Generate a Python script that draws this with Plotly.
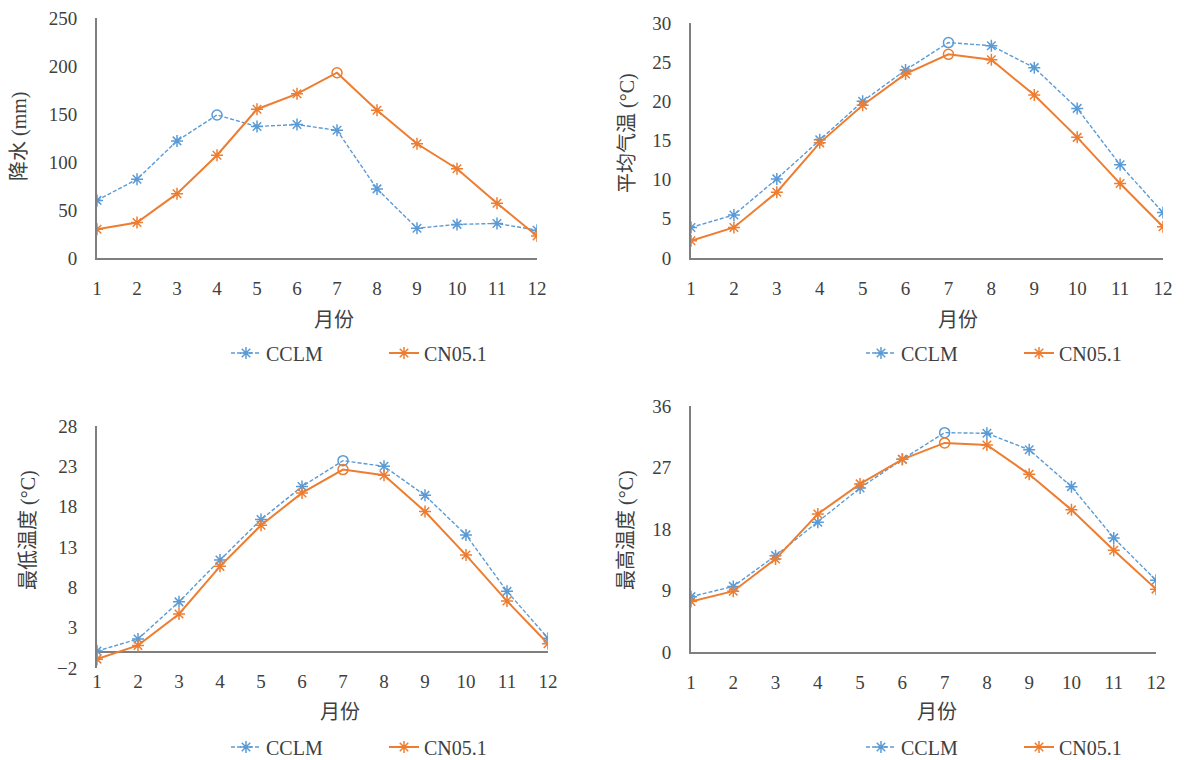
import plotly.graph_objects as go
import numpy as np

OFF = 8  # page body margin in the browser
W, H = 1184 - OFF, 760 - OFF

months = list(range(1, 13))

# Panel 1: precipitation (mm)
pr_cclm = [60, 82, 122, 149, 137, 139, 133, 72, 31, 35, 36, 29]
pr_cn05 = [30, 37, 67, 107, 155, 171, 193, 154, 119, 93, 57, 23]
# Panel 2: mean temperature (°C)
tm_cclm = [3.9, 5.5, 10.1, 15.1, 20.0, 24.0, 27.5, 27.1, 24.3, 19.1, 11.9, 5.8]
tm_cn05 = [2.2, 3.9, 8.4, 14.7, 19.5, 23.5, 26.0, 25.3, 20.8, 15.4, 9.5, 4.0]
# Panel 3: minimum temperature (°C)
tn_cclm = [0.1, 1.6, 6.2, 11.4, 16.4, 20.5, 23.7, 23.0, 19.4, 14.5, 7.5, 1.7]
tn_cn05 = [-0.9, 0.8, 4.7, 10.6, 15.7, 19.7, 22.6, 21.9, 17.4, 12.0, 6.3, 1.0]
# Panel 4: maximum temperature (°C)
tx_cclm = [8.1, 9.6, 14.1, 19.0, 24.0, 28.2, 32.1, 32.0, 29.6, 24.2, 16.7, 10.5]
tx_cn05 = [7.4, 8.9, 13.6, 20.2, 24.6, 28.2, 30.6, 30.3, 26.0, 20.8, 14.9, 9.2]

y_titles = ["降水 (mm)", "平均气温 (°C)", "最低温度 (°C)", "最高温度 (°C)"]
x_title = "月份"
series_names = ["CCLM", "CN05.1"]

BLUE = "#5B9BD5"
ORANGE = "#ED7D31"
AXC = "#7f7f7f"
TXT = "#404040"
FONT = "'Liberation Serif', 'Noto Sans CJK SC', serif"

def px_x(p):
    return (p - OFF) / W

def px_y(p):
    return 1 - (p - OFF) / H

panels = [
    dict(cclm=pr_cclm, cn=pr_cn05, xd=(97, 537), yd=(258, 18), yr=[0, 250], tick0=0, dtick=50,
         ytitle_xy=(19, 137), xtitle_xy=(334, 320), leg_xy=(384, 353), zero=False),
    dict(cclm=tm_cclm, cn=tm_cn05, xd=(691, 1163), yd=(258, 23), yr=[0, 30], tick0=0, dtick=5,
         ytitle_xy=(628, 133), xtitle_xy=(958, 320), leg_xy=(1019, 353), zero=False),
    dict(cclm=tn_cclm, cn=tn_cn05, xd=(97, 548), yd=(668, 426), yr=[-2, 28], tick0=-2, dtick=5,
         ytitle_xy=(28, 530), xtitle_xy=(340, 712), leg_xy=(384, 747), zero=True),
    dict(cclm=tx_cclm, cn=tx_cn05, xd=(691, 1156), yd=(652, 406), yr=[0, 36], tick0=0, dtick=9,
         ytitle_xy=(626, 530), xtitle_xy=(937, 712), leg_xy=(1019, 747), zero=False),
]

fig = go.Figure()
annotations = []
layout_upd = {}

for i, p in enumerate(panels):
    n = i + 1
    xa = "x" if n == 1 else f"x{n}"
    ya = "y" if n == 1 else f"y{n}"
    leg = "legend" if n == 1 else f"legend{n}"
    for name, vals, color, dash, lw in [
        (series_names[0], p["cclm"], BLUE, "4px,2px", 1.4),
        (series_names[1], p["cn"], ORANGE, "solid", 2.0),
    ]:
        k = int(np.argmax(vals))
        symbols = ["asterisk-open"] * len(vals)
        symbols[k] = "circle-open"
        fig.add_trace(go.Scatter(
            x=months, y=vals, name=name, mode="lines+markers",
            line=dict(color=color, width=lw, dash=dash),
            marker=dict(symbol=symbols, size=10, color=color, line=dict(color=color, width=1.5)),
            xaxis=xa, yaxis=ya, legend=leg, showlegend=True,
        ))
    xkey = "xaxis" if n == 1 else f"xaxis{n}"
    ykey = "yaxis" if n == 1 else f"yaxis{n}"
    layout_upd[xkey] = dict(
        domain=[px_x(p["xd"][0]), px_x(p["xd"][1])], anchor=ya, automargin=False,
        range=[1, 12], tickmode="array", tickvals=months, ticktext=[str(m) for m in months],
        showline=not p["zero"], linecolor=AXC, linewidth=1.8, showgrid=False, zeroline=False,
        ticks="", ticklabelstandoff=(0 if p["zero"] else 12), ticklabeloverflow="allow",
        tickfont=dict(family=FONT, size=19, color=TXT),
    )
    layout_upd[ykey] = dict(
        domain=[px_y(p["yd"][0]), px_y(p["yd"][1])], anchor=xa, automargin=False,
        range=p["yr"], tick0=p["tick0"], dtick=p["dtick"], tickmode="linear",
        showline=True, linecolor=AXC, linewidth=1.8, showgrid=False,
        zeroline=p["zero"], zerolinecolor=AXC, zerolinewidth=1.8,
        ticks="", ticklabelstandoff=14, ticklabeloverflow="allow",
        tickfont=dict(family=FONT, size=19, color=TXT),
    )
    layout_upd[leg] = dict(
        orientation="h", x=px_x(p["leg_xy"][0]), y=px_y(p["leg_xy"][1]),
        xanchor="center", yanchor="middle", xref="paper", yref="paper",
        font=dict(family=FONT, size=20, color=TXT), bgcolor="rgba(0,0,0,0)",
        entrywidth=113,
    )
    tx, ty = p["ytitle_xy"]
    annotations.append(dict(
        text=y_titles[i], x=px_x(tx), y=px_y(ty), xref="paper", yref="paper",
        showarrow=False, textangle=-90, xanchor="center", yanchor="middle",
        font=dict(family=FONT, size=20, color=TXT),
    ))
    tx, ty = p["xtitle_xy"]
    annotations.append(dict(
        text=x_title, x=px_x(tx), y=px_y(ty), xref="paper", yref="paper",
        showarrow=False, xanchor="center", yanchor="middle",
        font=dict(family=FONT, size=20, color=TXT),
    ))

fig.update_layout(
    width=W, height=H, margin=dict(l=0, r=0, t=0, b=0, autoexpand=False),
    paper_bgcolor="white", plot_bgcolor="white",
    annotations=annotations, **layout_upd,
)

fig.write_html("out.html")
